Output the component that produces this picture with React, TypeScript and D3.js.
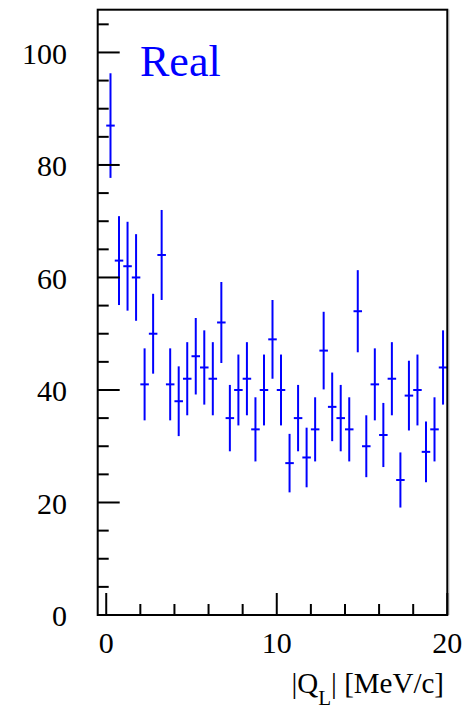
import React from "react";
import * as d3 from "d3";

const counts = [87, 63, 62, 60, 41, 50, 64, 41, 38, 42, 46, 44, 42, 52, 35, 40, 42, 33, 40, 49, 40, 27, 35, 28, 33, 47, 37, 35, 33, 54, 30, 41, 32, 42, 24, 39, 40, 29, 33, 44];
const errors = [9.3, 7.9, 7.9, 7.7, 6.4, 7.1, 8.0, 6.4, 6.2, 6.5, 6.8, 6.6, 6.5, 7.2, 5.9, 6.3, 6.5, 5.7, 6.3, 7.0, 6.3, 5.2, 5.9, 5.3, 5.7, 6.9, 6.1, 5.9, 5.7, 7.3, 5.5, 6.4, 5.7, 6.5, 4.9, 6.2, 6.3, 5.4, 5.7, 6.6];
const binWidth = 0.5;
const binCenters = counts.map((_, i) => 0.25 + i * binWidth);
const xMajorTicks = [0, 10, 20];
const xMinorTicks = [2, 4, 6, 8, 12, 14, 16, 18];
const yMajorTicks = [0, 20, 40, 60, 80, 100];
const yMinorTicks = [5, 10, 15, 25, 30, 35, 45, 50, 55, 65, 70, 75, 85, 90, 95, 105];
const xTitle = "|Q";
const xTitleSub = "L";
const xTitleRest = "| [MeV/c]";
const label = "Real";

export default function App() {
  const W = 466, H = 709;
  const x = d3.scaleLinear().domain([-0.5, 20]).range([97.7, 447.3]);
  const y = d3.scaleLinear().domain([0, 107.6]).range([615, 9.7]);
  const fontStyle = { fontFamily: '"Liberation Serif", "DejaVu Serif", serif' };
  const blue = "#0000ff";
  const x0 = x(-0.5), x1 = x(20), y0 = y(0), y1 = y(107.6);
  return (
    <svg width={W} height={H} style={{ position: "absolute", left: 0, top: 0, background: "#fff" }}>
      <rect x={0} y={0} width={W} height={H} fill="#fff" />
      <g stroke={blue} strokeWidth={2} fill="none">
        {counts.map((c, i) => {
          const cx = x(binCenters[i]);
          return (
            <g key={i}>
              <line x1={cx} x2={cx} y1={y(c + errors[i])} y2={y(c - errors[i])} />
              <line x1={x(binCenters[i] - binWidth / 2)} x2={x(binCenters[i] + binWidth / 2)} y1={y(c)} y2={y(c)} />
            </g>
          );
        })}
      </g>
      <rect x={x0} y={y1} width={x1 - x0} height={y0 - y1} fill="none" stroke="#000" strokeWidth={2} />
      <line x1={x1 + 1.5} x2={x1 + 1.5} y1={y1} y2={y0} stroke="#999" strokeWidth={1} />
      <g stroke="#000" strokeWidth={2}>
        {yMajorTicks.map((t) => (
          <line key={"ym" + t} x1={x0} x2={x0 + 22} y1={y(t)} y2={y(t)} />
        ))}
        {yMinorTicks.map((t) => (
          <line key={"yn" + t} x1={x0} x2={x0 + 11} y1={y(t)} y2={y(t)} />
        ))}
        {xMajorTicks.map((t) => (
          <line key={"xm" + t} x1={x(t)} x2={x(t)} y1={y0} y2={y0 - 22} />
        ))}
        {xMinorTicks.map((t) => (
          <line key={"xn" + t} x1={x(t)} x2={x(t)} y1={y0} y2={y0 - 11} />
        ))}
      </g>
      <g style={fontStyle} fontSize={30} fill="#000">
        {yMajorTicks.map((t) => (
          <text key={"yl" + t} x={67} y={y(t)} dy="0.38em" textAnchor="end" style={fontStyle}>{t}</text>
        ))}
        {xMajorTicks.map((t) => (
          <text key={"xl" + t} x={x(t)} y={652.5} textAnchor="middle" style={fontStyle}>{t}</text>
        ))}
      </g>
      <text x={444} y={693} textAnchor="end" style={fontStyle} fontSize={29} fill="#000">
        {xTitle}
        <tspan fontSize={21} dy={12}>{xTitleSub}</tspan>
        <tspan dy={-12}>{xTitleRest}</tspan>
      </text>
      <text x={140} y={76} style={fontStyle} fontSize={44} fill={blue}>{label}</text>
    </svg>
  );
}
